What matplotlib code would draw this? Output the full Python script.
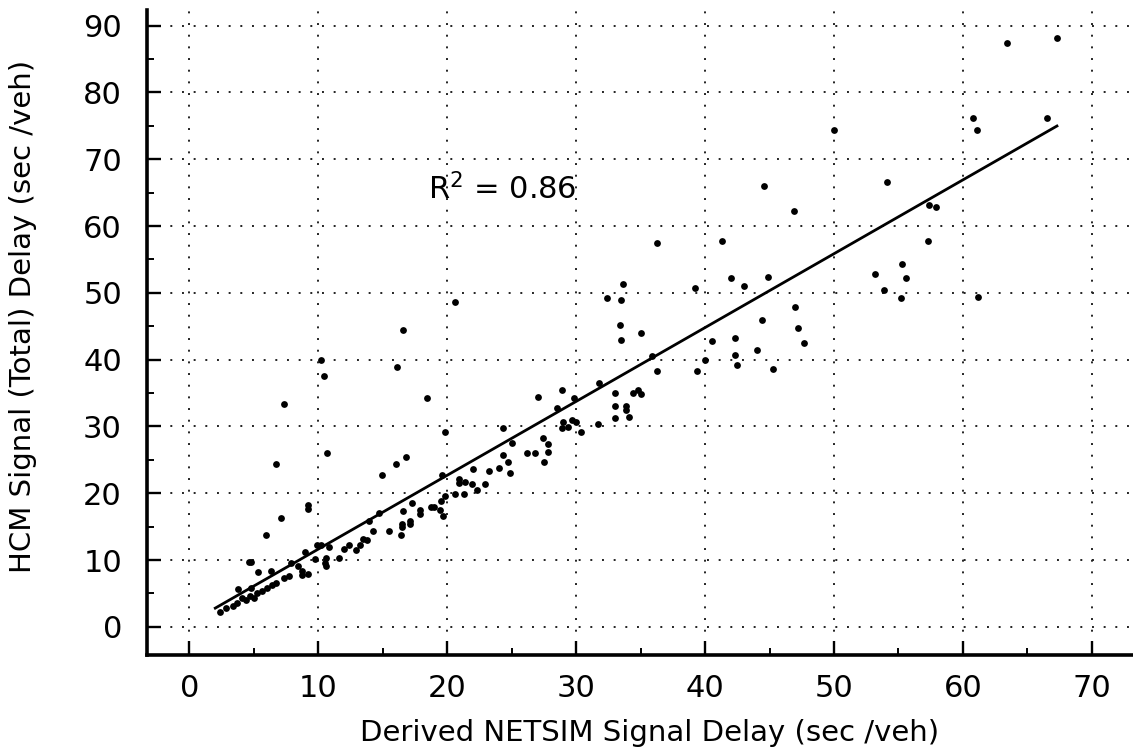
import numpy as np
import matplotlib
matplotlib.use("Agg")
import matplotlib.pyplot as plt
from matplotlib.ticker import MultipleLocator

# ── data (NETSIM delay vs HCM delay) ───────────────────────────────────────
netsim = [
    2.4, 2.8, 3.4, 3.7, 3.8, 4.1, 4.4, 4.7, 5.0, 4.8, 5.2, 5.6, 6.0, 6.4,
    4.6, 4.8, 5.3, 6.3, 6.7, 7.3, 7.7, 7.9, 8.4, 8.7, 8.7, 9.2, 9.0, 9.7,
    9.9, 10.2, 10.8, 10.6, 10.5, 10.6, 11.6, 12.0, 12.4, 12.9, 13.2, 13.5,
    13.8, 14.2, 13.9, 14.7, 15.5, 5.9, 7.1, 9.2, 9.2, 6.7, 14.9, 10.7, 7.3,
    10.2, 10.4, 16.1, 16.0, 16.8,
    18.4, 19.8, 27.0, 28.9, 29.8, 28.5, 29.0, 29.4, 28.9, 29.7, 30.4, 24.3,
    25.0, 27.4, 27.8, 27.8, 27.5, 26.2, 26.8, 24.3, 24.7, 24.9, 24.0, 23.2,
    22.0, 22.9, 22.3, 21.9, 21.4, 20.9, 20.9, 19.6, 20.6, 21.3, 19.8, 19.5,
    18.7, 19.0, 19.4, 19.7, 17.9, 17.9, 17.3, 16.6, 17.1, 17.1, 16.5, 16.5,
    16.4,
    36.3, 33.6, 32.4, 33.5, 39.2, 42.0, 43.0, 44.9, 47.0, 47.2, 47.7, 44.4,
    33.4, 33.5, 35.0, 35.9, 36.3, 39.4, 40.0, 40.5, 42.3, 42.3, 42.5, 44.0,
    45.3, 31.8, 33.0, 33.0, 34.4, 34.8, 35.0, 33.9, 33.9, 33.0, 34.1, 30.0,
    31.7,
    44.6, 46.9, 41.3, 57.4, 57.9, 57.3, 55.3, 53.2, 55.6, 53.9, 55.2, 61.2,
    50.0, 54.1, 60.8, 61.1, 66.5, 63.4, 67.3,
    20.6, 16.6,
]
hcm = [
    2.3, 2.8, 3.1, 3.6, 5.7, 4.3, 4.1, 4.6, 4.4, 5.8, 5.1, 5.3, 5.8, 6.3,
    9.7, 9.7, 8.2, 8.3, 6.6, 7.3, 7.6, 9.6, 9.1, 8.3, 7.7, 7.9, 11.2, 10.1,
    12.3, 12.3, 12.0, 10.3, 9.6, 9.1, 10.3, 11.6, 12.3, 11.5, 12.2, 13.2,
    13.0, 14.3, 15.8, 17.1, 14.3, 13.8, 16.3, 18.3, 17.6, 24.4, 22.7, 26.1,
    33.4, 40.0, 37.5, 38.9, 24.4, 25.5,
    34.2, 29.2, 34.4, 35.4, 34.2, 32.8, 30.7, 29.9, 29.8, 31.0, 29.2, 29.7,
    27.5, 28.3, 27.4, 26.2, 24.7, 26.0, 26.0, 25.8, 24.7, 23.0, 23.8, 23.4,
    23.6, 21.4, 20.5, 21.4, 21.7, 22.1, 21.6, 22.8, 19.9, 19.9, 19.6, 18.8,
    17.9, 17.9, 17.5, 16.6, 17.5, 16.9, 18.6, 17.4, 15.9, 15.4, 15.4, 14.9,
    13.8,
    57.5, 51.3, 49.2, 49.0, 50.7, 52.2, 51.0, 52.4, 47.9, 44.8, 42.5, 45.9,
    45.2, 43.0, 44.0, 40.6, 38.3, 38.3, 39.9, 42.8, 43.2, 40.7, 39.2, 41.4,
    38.6, 36.5, 35.0, 33.1, 35.0, 35.4, 34.8, 33.0, 32.4, 31.3, 31.4, 30.6,
    30.3,
    66.0, 62.2, 57.8, 63.2, 62.9, 57.7, 54.3, 52.8, 52.2, 50.4, 49.2, 49.4,
    74.3, 66.6, 76.2, 74.3, 76.2, 87.4, 88.2,
    48.6, 44.5,
]

# fitted line as printed on the chart
fit_x = [2.0, 67.3]
fit_slope, fit_icpt = 1.105, 0.6
r2_text = "R$^2$ = 0.86"

x_ticks = [0, 10, 20, 30, 40, 50, 60, 70]
y_ticks = [0, 10, 20, 30, 40, 50, 60, 70, 80, 90]

# ── figure ────────────────────────────────────────────────────────────────
plt.rcParams['font.family'] = ['DejaVu Sans']
fig = plt.figure(figsize=(11.33, 7.55), dpi=100)
ax = fig.add_axes([0.1297, 0.1325, 0.8703, 0.854])

ax.scatter(netsim, hcm, s=24, c='black', marker='o', linewidths=0, zorder=3)
fx = np.array(fit_x)
ax.plot(fx, fit_icpt + fit_slope * fx, color='black', lw=2.0, zorder=4)

ax.text(18.5, 65.5, r2_text, fontsize=22, va='center', ha='left')

ax.set_xlim(-3.3, 73.2)
ax.set_ylim(-4.2, 92.3)
ax.set_xticks(x_ticks)
ax.set_yticks(y_ticks)
ax.xaxis.set_minor_locator(MultipleLocator(5))
ax.yaxis.set_minor_locator(MultipleLocator(5))

ax.grid(True, which='major', color='#222222', lw=1.4, ls=(0, (1, 5)))
for s in ['top', 'right']:
    ax.spines[s].set_visible(False)
for s in ['left', 'bottom']:
    ax.spines[s].set_linewidth(2.6)

ax.tick_params(which='major', direction='in', length=10, width=1.7,
               labelsize=22)
ax.tick_params(which='minor', direction='in', length=5, width=1.4)
ax.tick_params(axis='x', pad=14)
ax.tick_params(axis='y', pad=18)

ax.set_xlabel('Derived NETSIM Signal Delay (sec /veh)', fontsize=21)
ax.set_ylabel('HCM Signal (Total) Delay (sec /veh)', fontsize=21)
ax.xaxis.set_label_coords(0.51, -0.1)
ax.yaxis.set_label_coords(-0.111, 0.525)

fig.savefig('out.png', dpi=100)
